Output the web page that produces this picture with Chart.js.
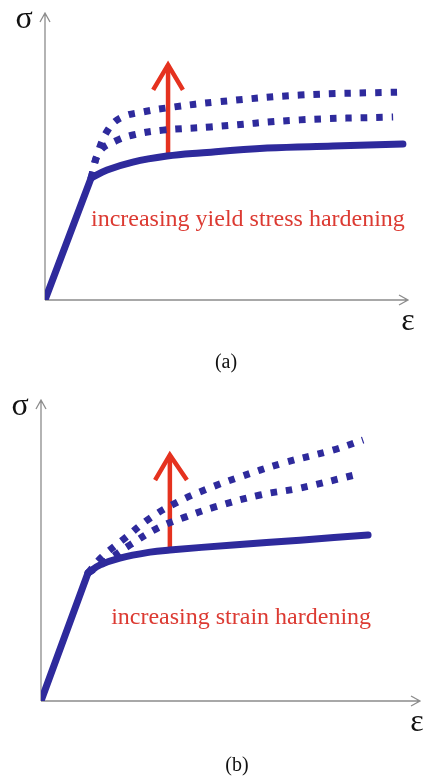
<!DOCTYPE html>
<html>
<head>
<meta charset="utf-8">
<script src="https://cdn.jsdelivr.net/npm/chart.js@4.4.1/dist/chart.umd.min.js"></script>
<style>
  html, body { margin: 0; background: #fff; }
  .panel { position: absolute; left: 0; width: 429px; }
</style>
</head>
<body>
<div class="panel" style="top:0;height:380px"><canvas id="chartA"></canvas></div>
<div class="panel" style="top:380px;height:402px"><canvas id="chartB"></canvas></div>
<script>
/* ── (a) increasing yield stress hardening ── */
const A_ELASTIC_X = [0, 1.27];
const A_ELASTIC_Y = [0, 4.28];
const A_BASE_X = [1.27, 1.71, 2.42, 3.36, 4.27, 6.12, 7.93, 9.86];
const A_BASE_Y = [4.28, 4.56, 4.84, 5.05, 5.16, 5.33, 5.40, 5.47];
const A_MID_X  = [1.27, 1.50, 1.95, 2.42, 3.25, 4.55, 7.02, 9.59];
const A_MID_Y  = [4.28, 5.20, 5.58, 5.79, 5.96, 6.07, 6.32, 6.42];
const A_HIGH_X = [1.27, 1.45, 1.75, 2.10, 2.70, 3.53, 4.74, 7.02, 9.92];
const A_HIGH_Y = [4.28, 5.15, 6.00, 6.40, 6.60, 6.77, 6.95, 7.19, 7.30];
const A_ARROW_X = [3.39, 3.39];
const A_ARROW_Y = [5.05, 8.25];
const A_HEAD_X  = [2.98, 3.39, 3.80];
const A_HEAD_Y  = [7.37, 8.25, 7.37];

/* ── (b) increasing strain hardening ── */
const B_ELASTIC_X = [0, 1.24];
const B_ELASTIC_Y = [0, 4.28];
const B_BASE_X = [1.24, 1.56, 2.08, 2.88, 3.40, 5.07, 6.83, 8.63];
const B_BASE_Y = [4.28, 4.55, 4.78, 4.98, 5.05, 5.22, 5.38, 5.55];
const B_MID_X  = [1.24, 1.69, 2.35, 3.09, 3.80, 4.59, 5.78, 6.83, 8.28];
const B_MID_Y  = [4.28, 4.65, 5.22, 5.79, 6.15, 6.49, 6.89, 7.12, 7.56];
const B_HIGH_X = [1.24, 1.61, 2.22, 2.88, 3.61, 4.38, 5.17, 6.39, 7.70, 8.50];
const B_HIGH_Y = [4.28, 4.82, 5.45, 6.12, 6.66, 7.09, 7.46, 7.96, 8.39, 8.73];
const B_ARROW_X = [3.40, 3.40];
const B_ARROW_Y = [5.05, 8.23];
const B_HEAD_X  = [3.01, 3.40, 3.85];
const B_HEAD_Y  = [7.39, 8.23, 7.39];

const NAVY = '#2e2a9c';
const RED  = '#e5321f';
const AXIS = '#8c8c8c';

const pts = (xs, ys) => xs.map((x, i) => ({ x, y: ys[i] }));

function curve(xs, ys, dashed, tension) {
  return {
    data: pts(xs, ys),
    borderColor: NAVY,
    borderWidth: 7,
    borderDash: dashed ? [6.5, 9] : [],
    borderCapStyle: dashed ? 'butt' : 'round',
    borderJoinStyle: 'round',
    tension: tension,
    pointRadius: 0
  };
}

function arrow(xs, ys) {
  return { data: pts(xs, ys), borderColor: RED, borderWidth: 4.5, tension: 0,
           pointRadius: 0, borderCapStyle: 'butt', borderJoinStyle: 'miter' };
}

/* axes with open arrowheads, symbols, note and caption */
const sketchPlugin = {
  id: 'sketch',
  beforeDatasetsDraw(chart, args, o) {
    const { ctx, chartArea: a } = chart;
    ctx.save();
    ctx.strokeStyle = AXIS;
    ctx.lineWidth = 1.3;
    ctx.beginPath();
    ctx.moveTo(a.left, a.bottom); ctx.lineTo(a.left, a.top - 2);
    ctx.moveTo(a.left - 5, a.top + 7); ctx.lineTo(a.left, a.top - 2); ctx.lineTo(a.left + 5, a.top + 7);
    ctx.moveTo(a.left, a.bottom); ctx.lineTo(a.right, a.bottom);
    ctx.moveTo(a.right - 9, a.bottom - 5); ctx.lineTo(a.right, a.bottom); ctx.lineTo(a.right - 9, a.bottom + 5);
    ctx.stroke();
    ctx.restore();
  },
  afterDatasetsDraw(chart, args, o) {
    const { ctx, chartArea: a, scales } = chart;
    ctx.save();
    ctx.textAlign = 'center';
    ctx.textBaseline = 'middle';
    ctx.fillStyle = '#111';
    ctx.font = '32px "Liberation Serif", serif';
    ctx.fillText('σ', a.left - 21, a.top + 5);
    ctx.fillText('ε', a.right + o.epsDx, a.bottom + 22);
    ctx.font = '20px "Liberation Serif", serif';
    ctx.fillText(o.caption, o.captionX, a.bottom + o.captionDy);
    ctx.fillStyle = '#dc3a32';
    ctx.font = '24px "Liberation Serif", serif';
    ctx.fillText(o.note, scales.x.getPixelForValue(o.noteX), scales.y.getPixelForValue(o.noteY));
    ctx.restore();
  }
};

const scaleOpts = {
  x: { type: 'linear', min: 0, max: 10, display: false },
  y: { type: 'linear', min: 0, max: 10, display: false }
};

function makeChart(id, datasets, padding, sketch) {
  return new Chart(document.getElementById(id), {
    type: 'line',
    data: { datasets },
    options: {
      responsive: true,
      maintainAspectRatio: false,
      animation: false,
      layout: { padding },
      scales: scaleOpts,
      plugins: { legend: { display: false }, tooltip: { enabled: false }, sketch }
    },
    plugins: [sketchPlugin]
  });
}

makeChart('chartA', [
  curve(A_HIGH_X, A_HIGH_Y, true, 0.4),
  curve(A_MID_X, A_MID_Y, true, 0.4),
  curve(A_ELASTIC_X, A_ELASTIC_Y, false, 0),
  curve(A_BASE_X, A_BASE_Y, false, 0.4),
  arrow(A_ARROW_X, A_ARROW_Y),
  arrow(A_HEAD_X, A_HEAD_Y)
], { left: 45, right: 21, top: 15, bottom: 80 },
{ note: 'increasing yield stress hardening', noteX: 5.59, noteY: 2.81,
  caption: '(a)', captionX: 226, captionDy: 63, epsDx: 0 });

makeChart('chartB', [
  curve(B_HIGH_X, B_HIGH_Y, true, 0.4),
  curve(B_MID_X, B_MID_Y, true, 0.4),
  curve(B_ELASTIC_X, B_ELASTIC_Y, false, 0),
  curve(B_BASE_X, B_BASE_Y, false, 0.4),
  arrow(B_ARROW_X, B_ARROW_Y),
  arrow(B_HEAD_X, B_HEAD_Y)
], { left: 41, right: 9, top: 22, bottom: 81 },
{ note: 'increasing strain hardening', noteX: 5.28, noteY: 2.78,
  caption: '(b)', captionX: 237, captionDy: 65, epsDx: -3 });
</script>
</body>
</html>
